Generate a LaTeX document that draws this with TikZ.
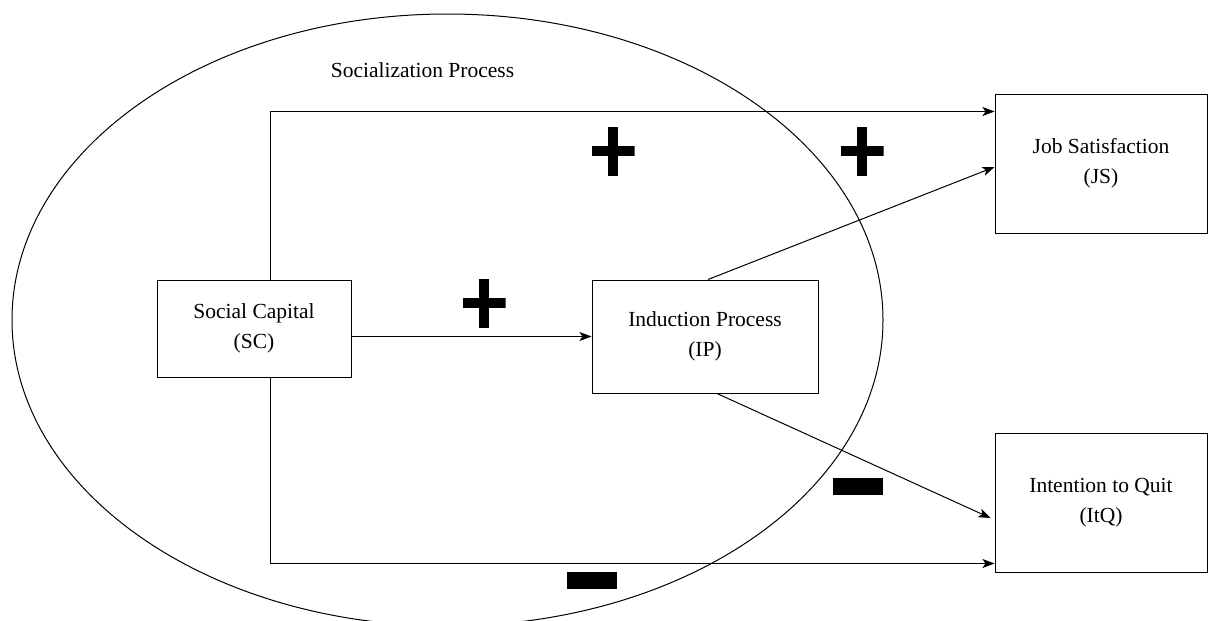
\documentclass[tikz,border=0pt]{standalone}
\usepackage{fontspec}
\setmainfont{Liberation Serif}
\usetikzlibrary{shapes,arrows.meta,positioning}

\begin{document}
\begin{tikzpicture}[
    x=1pt, y=-1pt,
    line width=1pt,
    >={Stealth[length=12pt,width=9pt,inset=3pt]},
    font=\fontsize{21.5}{30}\selectfont,
    box node/.style={rectangle,draw,align=center,inner sep=0pt},
    process node/.style={ellipse,draw,inner sep=0pt,minimum width=871pt,minimum height=612pt},
    plus sign/.style={minimum width=43pt,minimum height=49pt,inner sep=0pt,
        path picture={
            \fill ([xshift=-5pt]path picture bounding box.north) rectangle ([xshift=5pt]path picture bounding box.south);
            \fill ([yshift=5pt]path picture bounding box.west) rectangle ([yshift=-5pt]path picture bounding box.east);
        }},
    minus sign/.style={fill,minimum width=50pt,minimum height=17pt,inner sep=0pt}
]
\useasboundingbox (0,0) rectangle (1208,621);

% Socialization process
\node[process node] (social) at (447.5,320) {};
\node (sociallabel) at (422.5,70) {Socialization Process};

% Constructs
\node[box node, minimum width=194pt, minimum height=97pt] (sc) at (254,328.5) {Social Capital\\(SC)};
\node[box node, minimum width=226pt, minimum height=113pt] (ip) at (705,336.5) {Induction Process\\(IP)};
\node[box node, minimum width=212pt, minimum height=139pt] (js) at (1101,163.5) {Job Satisfaction\\(JS)};
\node[box node, minimum width=212pt, minimum height=139pt] (itq) at (1101,502.5) {Intention to Quit\\(ItQ)};

% Arrows
\draw[->] ([xshift=16pt]sc.north) |- ([yshift=-18pt]js.north west);
\draw[->] ([xshift=16pt]sc.south) |- ([yshift=9pt]itq.south west);
\draw[->] (sc.east |- ip.west) -- (ip.west);
\draw[->] ([xshift=3pt]ip.north) -- ([yshift=-3.5pt]js.west);
\draw[->] ([xshift=12pt]ip.south) -- ([xshift=-4pt,yshift=-15.5pt]itq.west);

% Signs
\node[plus sign] (plusjs) at (613,151) {};
\node[plus sign] (plusipjs) at (862,151) {};
\node[plus sign] (plusip) at (484,303) {};
\node[minus sign] (minusitq) at (592,580.5) {};
\node[minus sign] (minusipitq) at (858,486.5) {};

\end{tikzpicture}
\end{document}
